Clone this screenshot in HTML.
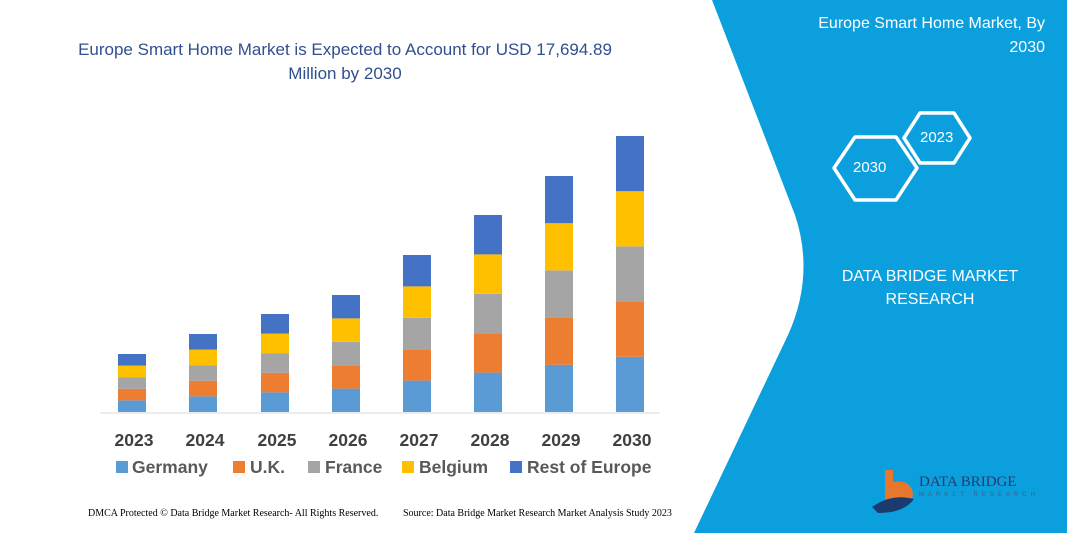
<!DOCTYPE html>
<html><head><meta charset="utf-8"><style>
body{margin:0;width:1067px;height:533px;overflow:hidden;background:#fff;font-family:"Liberation Sans",sans-serif;position:relative}
.t{position:absolute;white-space:nowrap}
</style></head><body>
<svg width="1067" height="533" style="position:absolute;left:0;top:0">
<path d="M712,0 L1067,0 L1067,533 L694,533 L788,335 Q815,275 795,215 Z" fill="#0ba0dd"/>
<g fill="none" stroke="#fff" stroke-width="3.5" stroke-linejoin="round">
<polygon points="834,168 855,137 896,137 917,168 896,200 855,200"/>
<polygon points="904,138 920,113 954,113 970,138 954,163 920,163"/>
</g>
<line x1="100" y1="413" x2="660" y2="413" stroke="#d9d9d9" stroke-width="1"/>
<g id="bars"></g>
<g>
<rect x="116" y="461" width="12" height="12" fill="#5b9bd5"/>
<rect x="233" y="461" width="12" height="12" fill="#ed7d31"/>
<rect x="308" y="461" width="12" height="12" fill="#a5a5a5"/>
<rect x="402" y="461" width="12" height="12" fill="#ffc000"/>
<rect x="510" y="461" width="12" height="12" fill="#4472c4"/>
</g>
<path d="M885,470 h8 v12 q18,-3 20,12 q-2,16 -20,14 h-8z" fill="#e8772e"/>
<path d="M872,507 q20,-14 42,-8 q-10,14 -36,14z" fill="#1b3b6f"/>
</svg>
<div class="t" style="left:0;width:690px;top:38px;text-align:center;color:#2f4f8f;font-size:17px;line-height:24px;white-space:normal">Europe Smart Home Market is Expected to Account for USD 17,694.89<br>Million by 2030</div>
<div class="t" style="right:22px;top:12px;color:#fff;font-size:16px;line-height:24px;text-align:right">Europe Smart Home Market, By<br>2030</div>
<div class="t" style="left:853px;top:159px;color:#fff;font-size:15px">2030</div>
<div class="t" style="left:920px;top:129px;color:#fff;font-size:15px">2023</div>
<div class="t" style="left:820px;top:265px;width:220px;text-align:center;color:#fff;font-size:16px;line-height:23px">DATA BRIDGE MARKET<br>RESEARCH</div>
<div class="t" style="left:919px;top:474px;color:#2a3a6a;font-size:15px;font-family:'Liberation Serif',serif">DATA BRIDGE</div>
<div class="t" style="left:919px;top:492px;color:#4a5a80;font-size:6px;letter-spacing:4px">MARKET RESEARCH</div>
<div id="yrs"></div>
<div class="t" style="left:132px;top:457px;font-size:17.5px;font-weight:bold;color:#595959">Germany</div>
<div class="t" style="left:250px;top:457px;font-size:17.5px;font-weight:bold;color:#595959">U.K.</div>
<div class="t" style="left:325px;top:457px;font-size:17.5px;font-weight:bold;color:#595959">France</div>
<div class="t" style="left:419px;top:457px;font-size:17.5px;font-weight:bold;color:#595959">Belgium</div>
<div class="t" style="left:527px;top:457px;font-size:17.5px;font-weight:bold;color:#595959">Rest of Europe</div>
<div class="t" style="left:88px;top:508px;font-size:10px;font-family:'Liberation Serif',serif;color:#000">DMCA Protected © Data Bridge Market Research- All Rights Reserved.</div>
<div class="t" style="left:403px;top:508px;font-size:10px;font-family:'Liberation Serif',serif;color:#000">Source: Data Bridge Market Research Market Analysis Study 2023</div>
<script>
var xs=[118,189,261,332,403,474,545,616],tops=[354,334,314,295,255,215,176,136],c=["#5b9bd5","#ed7d31","#a5a5a5","#ffc000","#4472c4"],yrs=[2023,2024,2025,2026,2027,2028,2029,2030];
var s='',h='';
for(var i=0;i<8;i++){var H=(412-tops[i])/5;for(var k=0;k<5;k++){s+='<rect x="'+xs[i]+'" y="'+(412-H*(k+1))+'" width="28" height="'+H+'" fill="'+c[k]+'"/>';}
h+='<div class="t" style="left:'+(xs[i]-14)+'px;width:60px;text-align:center;top:430px;font-size:17.5px;font-weight:bold;color:#404040">'+yrs[i]+'</div>';}
document.getElementById('bars').innerHTML=s;document.getElementById('yrs').innerHTML=h;
</script>
</body></html>
